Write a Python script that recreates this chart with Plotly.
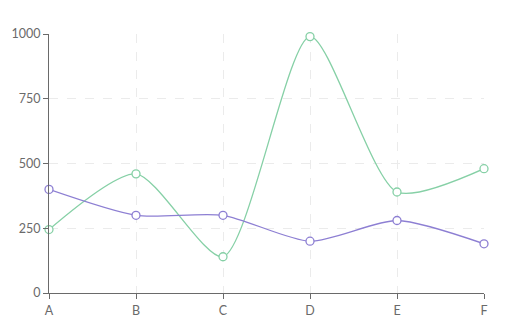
import plotly.graph_objects as go

categories = ["A", "B", "C", "D", "E", "F"]
green_values = [245, 460, 140, 990, 390, 480]
purple_values = [400, 300, 300, 200, 280, 190]

green = "#86d0a6"
purple = "#8d7fd3"

fig = go.Figure()
for vals, col in ((green_values, green), (purple_values, purple)):
    fig.add_trace(go.Scatter(
        x=categories, y=vals, mode="lines+markers",
        line=dict(color=col, width=1.3, shape="spline", smoothing=0.7),
        marker=dict(symbol="circle", size=8, color="white", line=dict(color=col, width=1.3)),
        showlegend=False, cliponaxis=False,
    ))

axis_font = dict(family="Lato, 'Noto Sans', sans-serif", size=12.5, color="#6a6a6a")
fig.update_layout(
    width=509, height=327,
    margin=dict(l=49, r=25, t=34, b=34, autoexpand=False),
    paper_bgcolor="white", plot_bgcolor="white",
    xaxis=dict(
        type="category", range=[0, 5], showline=True, linecolor="#6a6a6a", linewidth=1,
        ticks="outside", ticklen=5, tickcolor="#6a6a6a", tickfont=axis_font,
        showgrid=True, gridcolor="#ebebeb", griddash="dash", gridwidth=1, zeroline=False,
        automargin=False, ticklabelstandoff=1,
    ),
    yaxis=dict(
        range=[0, 1000], tickvals=[0, 250, 500, 750, 1000], showline=True, linecolor="#6a6a6a",
        linewidth=1, ticks="outside", ticklen=5, tickcolor="#6a6a6a", tickfont=axis_font,
        showgrid=True, gridcolor="#ebebeb", griddash="dash", gridwidth=1, zeroline=False,
        ticklabelstandoff=0, automargin=False,
    ),
)
fig.write_html("out.html")
